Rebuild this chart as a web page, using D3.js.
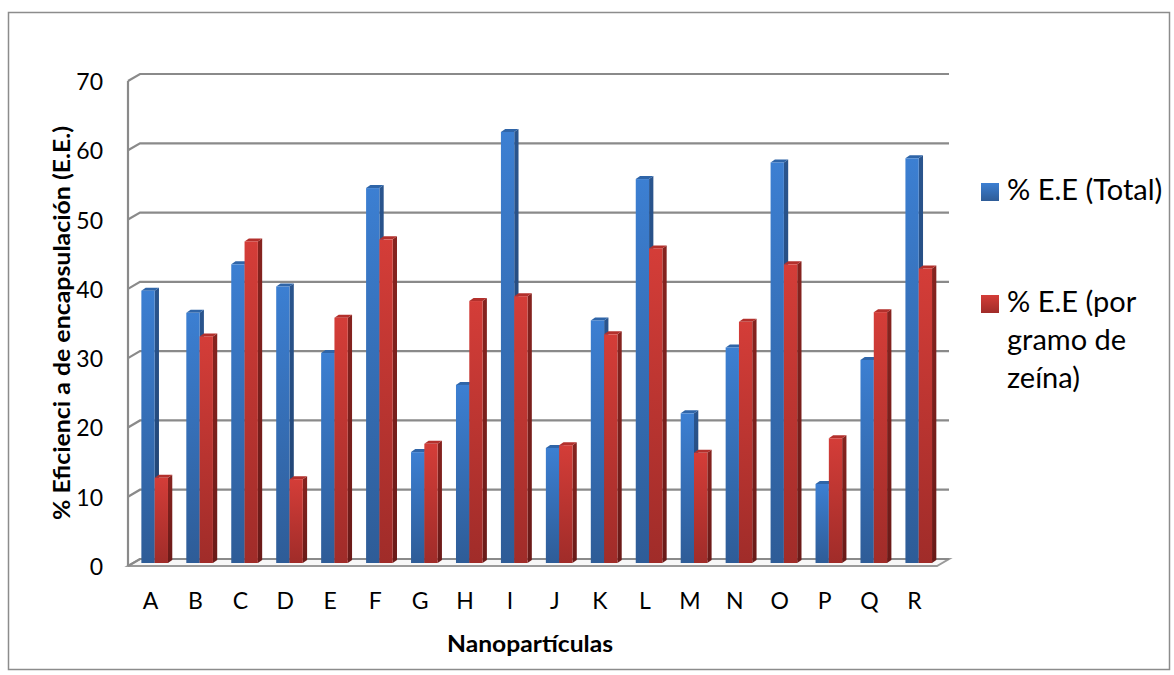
<!DOCTYPE html>
<html>
<head>
<meta charset="utf-8">
<script src="https://cdn.jsdelivr.net/npm/d3@7"></script>
<style>
  html, body { margin: 0; padding: 0; background: #fff; }
  svg { display: block; }
  text { font-family: Lato, "Open Sans", "Liberation Sans", sans-serif; fill: #000; }
</style>
</head>
<body>
<svg id="chart" width="1174" height="675"></svg>
<script>
// Nanoparticle labels and encapsulation efficiencies (%)
const categories = ["A","B","C","D","E","F","G","H","I","J","K","L","M","N","O","P","Q","R"];
const seriesNames = ["% E.E (Total)", "% E.E (por gramo de zeína)"];
const totalEE   = [39.3, 36.1, 43.1, 39.9, 30.3, 54.1, 16.0, 25.7, 62.2, 16.6, 35.0, 55.4, 21.6, 31.1, 57.8, 11.4, 29.3, 58.4];
const perGramEE = [12.3, 32.7, 46.4, 12.1, 35.4, 46.7, 17.2, 37.8, 38.5, 17.0, 33.0, 45.4, 15.9, 34.8, 43.1, 18.0, 36.2, 42.5];
const yTicks = [0, 10, 20, 30, 40, 50, 60, 70];
const yTitle = "% Eficienci a de encapsulación  (E.E.)";
const xTitle = "Nanopartículas";
const legendLines = [["% E.E (Total)"], ["% E.E (por", "gramo de", "zeína)"]];

const svg = d3.select("#chart");

// outer chart frame
svg.append("rect")
  .attr("x", 8.5).attr("y", 12.5).attr("width", 1161).attr("height", 657)
  .attr("fill", "#fff").attr("stroke", "#8c8c8c").attr("stroke-width", 1.5);

// 3-D box geometry: front plane and the receding back wall
const frontLeft = 128, frontRight = 937, frontBase = 566;
const depthX = 12, depthY = 7;

const x = d3.scaleBand().domain(categories).range([frontLeft, frontRight])
  .paddingInner(0.408).paddingOuter(0.204);
const xs = d3.scaleBand().domain([0, 1]).range([0, x.bandwidth()]);
const yGrid = d3.scaleLinear().domain([0, 70]).range([frontBase - depthY, 74]);
const yBar = d3.scaleLinear().domain([0, 70]).range([563, 563 - 70 * 6.93]);

const defs = svg.append("defs");
function grad(id, c1, c2) {
  const g = defs.append("linearGradient").attr("id", id)
    .attr("x1", 0).attr("y1", 0).attr("x2", 0).attr("y2", 1);
  g.append("stop").attr("offset", "0%").attr("stop-color", c1);
  g.append("stop").attr("offset", "100%").attr("stop-color", c2);
}
grad("gBlue", "#3c7fd2", "#2e5c97");
grad("gRed", "#d43d38", "#a02c29");
grad("gBlueSide", "#2a558e", "#1f406d");
grad("gRedSide", "#86231f", "#6a1a18");

const palette = [
  { front: "url(#gBlue)", side: "url(#gBlueSide)", top: "#2f65a8" },
  { front: "url(#gRed)",  side: "url(#gRedSide)",  top: "#b3302c" }
];

// floor
const floor = svg.append("g");
floor.append("polygon")
  .attr("points", [
    [frontLeft, frontBase], [frontRight, frontBase],
    [frontRight + depthX, frontBase - depthY], [frontLeft + depthX, frontBase - depthY]
  ].map(p => p.join(",")).join(" "))
  .attr("fill", "#f7f7f7").attr("stroke", "#9a9a9a").attr("stroke-width", 2);

// side wall edge and gridlines on the back wall
const grid = svg.append("g").attr("stroke", "#8a8a8a").attr("stroke-width", 2.2).attr("fill", "none");
grid.append("line")
  .attr("x1", frontLeft).attr("x2", frontLeft)
  .attr("y1", yGrid(70) + depthY).attr("y2", frontBase);
yTicks.forEach(v => {
  grid.append("polyline")
    .attr("points", [
      [frontLeft, yGrid(v) + depthY],
      [frontLeft + depthX, yGrid(v)],
      [frontRight + depthX, yGrid(v)]
    ].map(p => p.join(",")).join(" "));
});

// y tick labels
svg.append("g").selectAll("text").data(yTicks).join("text")
  .attr("x", 103).attr("y", d => yGrid(d) + depthY + 1)
  .attr("dy", "0.35em").attr("text-anchor", "end")
  .attr("font-size", 23).text(d => d);

// bars
const barDX = 4.3, barDY = 3, shift = 4.2;
const series = [totalEE, perGramEE];
const bars = svg.append("g");
categories.forEach((c, i) => {
  series.forEach((vals, s) => {
    const v = vals[i];
    const xl = x(c) + shift + xs(s);
    const xr = xl + xs.bandwidth();
    const yt = yBar(v), yb = yBar(0);
    const col = palette[s];
    const g = bars.append("g");
    g.append("polygon")
      .attr("points", [[xr, yt], [xr + barDX, yt - barDY], [xr + barDX, yb - barDY], [xr, yb]].map(p => p.join(",")).join(" "))
      .attr("fill", col.side);
    g.append("polygon")
      .attr("points", [[xl, yt], [xl + barDX, yt - barDY], [xr + barDX, yt - barDY], [xr, yt]].map(p => p.join(",")).join(" "))
      .attr("fill", col.top);
    g.append("rect")
      .attr("x", xl).attr("y", yt).attr("width", xr - xl).attr("height", yb - yt)
      .attr("fill", col.front);
  });
});

// category labels
svg.append("g").selectAll("text").data(categories).join("text")
  .attr("x", d => x(d) + x.bandwidth() / 2).attr("y", 609)
  .attr("text-anchor", "middle").attr("font-size", 23).text(d => d);

// axis titles
svg.append("text")
  .attr("x", 530).attr("y", 652).attr("text-anchor", "middle")
  .attr("font-size", 23).attr("font-weight", "bold")
  .attr("textLength", 166).attr("lengthAdjust", "spacingAndGlyphs")
  .text(xTitle);

svg.append("text")
  .attr("transform", "translate(70,323) rotate(-90)")
  .attr("text-anchor", "middle")
  .attr("font-size", 22).attr("font-weight", "bold")
  .attr("textLength", 394).attr("lengthAdjust", "spacingAndGlyphs")
  .text(yTitle);

// legend
const legend = svg.append("g");
const legendTop = [183, 295];
const legendFills = ["url(#gBlue)", "url(#gRed)"];
legendLines.forEach((lines, s) => {
  legend.append("rect")
    .attr("x", 981).attr("y", legendTop[s]).attr("width", 18).attr("height", 18)
    .attr("fill", legendFills[s]);
  const t = legend.append("text").attr("font-size", 29);
  lines.forEach((ln, k) => {
    t.append("tspan").attr("x", 1007).attr("y", legendTop[s] + 17 + k * 38).text(ln);
  });
});
</script>
</body>
</html>
